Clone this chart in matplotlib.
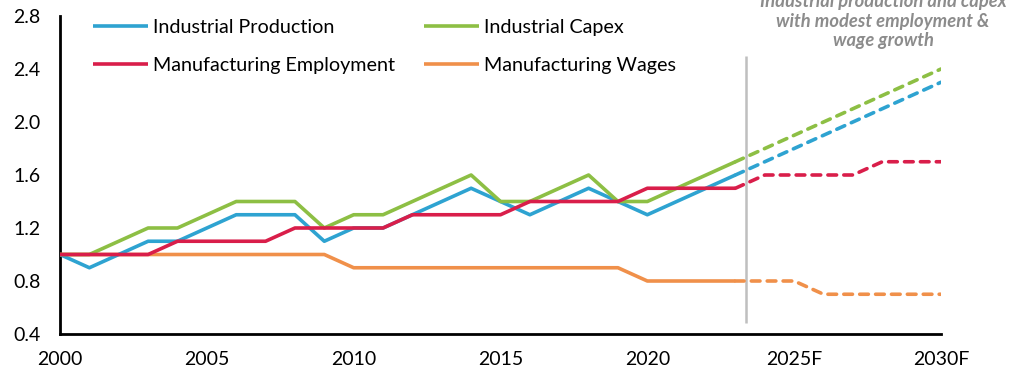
import matplotlib

matplotlib.use("Agg")
import matplotlib.pyplot as plt
import numpy as np

plt.rcParams["font.family"] = ["Lato", "DejaVu Sans"]

# actuals 2000-2023
years = np.arange(2000, 2024)
ind_prod = [1.0, 0.9, 1.0, 1.1, 1.1, 1.2, 1.3, 1.3, 1.3, 1.1, 1.2, 1.2,
            1.3, 1.4, 1.5, 1.4, 1.3, 1.4, 1.5, 1.4, 1.3, 1.4, 1.5, 1.6]
ind_capex = [1.0, 1.0, 1.1, 1.2, 1.2, 1.3, 1.4, 1.4, 1.4, 1.2, 1.3, 1.3,
             1.4, 1.5, 1.6, 1.4, 1.4, 1.5, 1.6, 1.4, 1.4, 1.5, 1.6, 1.7]
mfg_emp = [1.0, 1.0, 1.0, 1.0, 1.1, 1.1, 1.1, 1.1, 1.2, 1.2, 1.2, 1.2,
           1.3, 1.3, 1.3, 1.3, 1.4, 1.4, 1.4, 1.4, 1.5, 1.5, 1.5, 1.5]
mfg_wages = [1.0, 1.0, 1.0, 1.0, 1.0, 1.0, 1.0, 1.0, 1.0, 1.0, 0.9, 0.9,
             0.9, 0.9, 0.9, 0.9, 0.9, 0.9, 0.9, 0.9, 0.8, 0.8, 0.8, 0.8]

# forecast 2023-2030
f_years = np.arange(2023, 2031)
f_ind_prod = [1.6, 1.7, 1.8, 1.9, 2.0, 2.1, 2.2, 2.3]
f_ind_capex = [1.7, 1.8, 1.9, 2.0, 2.1, 2.2, 2.3, 2.4]
f_mfg_emp = [1.5, 1.6, 1.6, 1.6, 1.6, 1.7, 1.7, 1.7]
f_mfg_wages = [0.8, 0.8, 0.8, 0.7, 0.7, 0.7, 0.7, 0.7]

names = ["Industrial Production", "Industrial Capex",
         "Manufacturing Employment", "Manufacturing Wages"]
colors = ["#2ea3d1", "#8dbf44", "#d91e4a", "#f0904a"]

xticks = [2000, 2005, 2010, 2015, 2020, 2025, 2030]
xlabels = ["2000", "2005", "2010", "2015", "2020", "2025F", "2030F"]
yticks = [0.4, 0.8, 1.2, 1.6, 2.0, 2.4, 2.8]
split_year = 2023.35

fig = plt.figure(figsize=(10.21, 3.70), dpi=100)
ax = fig.add_axes([60 / 1021, 36 / 370, 881 / 1021, 318 / 370])

actual = [ind_prod, ind_capex, mfg_emp, mfg_wages]
fcast = [f_ind_prod, f_ind_capex, f_mfg_emp, f_mfg_wages]
order = [3, 0, 1, 2]
for i in order:
    ax.plot(f_years, fcast[i], color=colors[i], lw=2.6,
            dashes=(2.4, 2.0), dash_capstyle="round", zorder=2)
for i in order:
    ax.plot(years, actual[i], color=colors[i], lw=2.6, label=names[i],
            solid_capstyle="butt", zorder=3)

ax.vlines(split_year, 0.48, 2.5, color="#bfbfbf", lw=1.8, zorder=1)

ax.set_xlim(2000, 2030)
ax.set_ylim(0.4, 2.8)
ax.set_xticks(xticks)
ax.set_xticklabels(xlabels)
ax.set_yticks(yticks)
ax.set_yticklabels([f"{v:.1f}" for v in yticks])
ax.tick_params(length=0, labelsize=14, pad=14)
ax.tick_params(axis="x", pad=12)
for s in ("top", "right"):
    ax.spines[s].set_visible(False)
for s in ("left", "bottom"):
    ax.spines[s].set_linewidth(2)

h, l = ax.get_legend_handles_labels()
idx = [l.index(n) for n in names]
ax.legend([h[k] for k in [idx[0], idx[2], idx[1], idx[3]]],
          [names[0], names[2], names[1], names[3]],
          ncol=2, frameon=False, fontsize=14.2, loc="upper left",
          bbox_to_anchor=(0.0285, 1.016), handlelength=2.8, handletextpad=0.25,
          columnspacing=1.45, labelspacing=1.05, borderaxespad=0.0)

fig.text(883 / 1021, 1 - 21 / 370,
         "Industrial production and capex\nwith modest employment &\nwage growth",
         ha="center", va="center", color="#8c8c8c", fontsize=13.2,
         fontweight="bold", fontstyle="italic", linespacing=1.15)

fig.savefig("out.png", dpi=100)
